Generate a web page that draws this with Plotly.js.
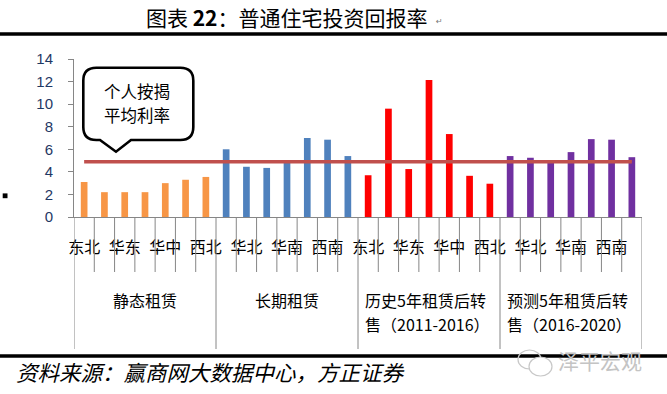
<!DOCTYPE html>
<html>
<head>
<meta charset="utf-8">
<script src="https://cdn.plot.ly/plotly-3.0.1.min.js"></script>
<style>
html,body{margin:0;padding:0;background:#fff;}
#chart{width:667px;height:394px;}
</style>
</head>
<body>
<div id="chart"></div>
<script>
// ---- data ----
const regions = ['东北','华北','华东','华南','华中','西南','西北'];
const groupLabels = [['静态租赁'],['长期租赁'],['历史5年租赁后转','售（2011-2016）'],['预测5年租赁后转','售（2016-2020）']];
const staticRent   = [3.1, 2.2, 2.2, 2.2, 3.0, 3.3, 3.55];
const longRent     = [6.0, 4.45, 4.35, 4.8, 7.0, 6.85, 5.4];
const histResale   = [3.7, 9.6, 4.25, 12.15, 7.35, 3.65, 2.95];
const fcstResale   = [5.4, 5.25, 4.8, 5.75, 6.9, 6.85, 5.3];
const mortgageRate = 4.9;
const seriesColors = ['#F79646','#4F81BD','#FF0000','#7030A0'];
const lineColor = '#C0504D';
const chartTitle = '图表 <b>22</b>：普通住宅投资回报率';
const sourceText = '资料来源：赢商网大数据中心，方正证券';
const calloutLines = ['个人按揭','平均利率'];
const watermark = '泽平宏观';

// ---- build ----
const W = 667, H = 394;
const M = {l:74, r:25, t:59, b:177};
const PW = W - M.l - M.r, PH = H - M.t - M.b;
const X = px => (px - M.l) / PW;
const Y = py => (H - M.b - py) / PH;

const series = [staticRent, longRent, histResale, fcstResale];
const n = regions.length;
const total = n * series.length;
const CJK = '"Noto Sans CJK SC", "Noto Sans", sans-serif';

const traces = series.map((vals, g) => ({
  type: 'bar',
  x: vals.map((v, i) => g * n + i),
  y: vals,
  width: 0.33,
  marker: {color: seriesColors[g]},
  hoverinfo: 'skip',
  showlegend: false
}));
const allIdx = Array.from({length: total}, (_, i) => i);
traces.push({
  type: 'scatter', mode: 'lines',
  x: allIdx, y: allIdx.map(() => mortgageRate),
  line: {color: lineColor, width: 3.6},
  hoverinfo: 'skip', showlegend: false
});

const labelIdx = allIdx.filter(i => i % 2 === 0);
const labelText = labelIdx.map(i => regions[i % n]);
const boundaries = Array.from({length: total + 1}, (_, i) => i - 0.5);
const groupBounds = Array.from({length: series.length + 1}, (_, g) => g * n - 0.5);

const annotations = [];
// group labels
groupLabels.forEach((lines, g) => {
  if (lines.length === 1) {
    annotations.push({xref:'x', yref:'paper', x: g*n + (n-1)/2, y: Y(300), text: lines[0],
      showarrow:false, xanchor:'center', yanchor:'middle', font:{family:CJK, size:16, color:'#000'}});
  } else {
    lines.forEach((t, k) => annotations.push({xref:'x', yref:'paper', x: g*n - 0.5 + 0.32, y: Y(300 + k*23.5), text: t,
      showarrow:false, xanchor:'left', yanchor:'middle', borderpad:0, font:{family:CJK, size:16, color:'#000'}}));
  }
});
// title
annotations.push({xref:'paper', yref:'paper', x: X(287), y: Y(17), text: chartTitle, showarrow:false,
  xanchor:'center', yanchor:'middle', font:{family:CJK, size:21, color:'#000'}});
annotations.push({xref:'paper', yref:'paper', x: X(434), y: Y(21), text: '↵', showarrow:false,
  xanchor:'left', yanchor:'middle', font:{family:'DejaVu Sans', size:8, color:'#777'}});
// source
annotations.push({xref:'paper', yref:'paper', x: X(14), y: Y(371), text: '<i>' + sourceText + '</i>', showarrow:false,
  xanchor:'left', yanchor:'middle', font:{family:CJK, size:21.5, color:'#000'}});
// callout text
calloutLines.forEach((t, k) => annotations.push({xref:'paper', yref:'paper', x: X(137), y: Y(91 + k*23.5), text: t, showarrow:false,
  xanchor:'center', yanchor:'middle', borderpad:0, font:{family:CJK, size:16.5, color:'#000'}}));
// watermark
annotations.push({xref:'paper', yref:'paper', x: X(600), y: Y(360), text: watermark, showarrow:false,
  xanchor:'center', yanchor:'middle', font:{family:CJK, size:21, color:'#c4c4c4'}});

// callout path
const L = 83.3, R = 193.3, T = 67.7, B = 140, r = 13;
const P = (x, y) => X(x).toFixed(5) + ',' + Y(y).toFixed(5);
const callPath = 'M' + P(L + r, T) + ' L' + P(R - r, T) + ' Q' + P(R, T) + ' ' + P(R, T + r) +
  ' L' + P(R, B - r) + ' Q' + P(R, B) + ' ' + P(R - r, B) + ' L' + P(131, B) + ' L' + P(116, 151.7) +
  ' L' + P(100, B) + ' L' + P(L + r, B) + ' Q' + P(L, B) + ' ' + P(L, B - r) + ' L' + P(L, T + r) +
  ' Q' + P(L, T) + ' ' + P(L + r, T) + ' Z';

const shapes = [
  {type:'path', xref:'paper', yref:'paper', path: callPath, fillcolor:'#fff', line:{color:'#000', width:2.6}, layer:'above'},
  {type:'line', xref:'paper', yref:'paper', x0: X(0), x1: X(667), y0: Y(34), y1: Y(34), line:{color:'#000', width:3.4}},
  {type:'line', xref:'paper', yref:'paper', x0: X(0), x1: X(667), y0: Y(356), y1: Y(356), line:{color:'#000', width:3.4}},
  {type:'rect', xref:'paper', yref:'paper', x0: X(2.7), x1: X(7.5), y0: Y(198.2), y1: Y(193.4), fillcolor:'#000', line:{width:0}},
  // watermark icon
  {type:'circle', xref:'paper', yref:'paper', x0: X(518), x1: X(541), y0: Y(369), y1: Y(350), fillcolor:'rgba(0,0,0,0)', line:{color:'#c8c8c8', width:1.2}},
  {type:'circle', xref:'paper', yref:'paper', x0: X(529), x1: X(552), y0: Y(376), y1: Y(357), fillcolor:'#fff', line:{color:'#c8c8c8', width:1.2}}
];
// category divider ticks below the axis
boundaries.forEach(b => {
  const isGroup = groupBounds.includes(b);
  shapes.push({type:'line', xref:'x', yref:'paper', x0: b, x1: b, y0: 0, y1: Y(isGroup ? 349 : 272),
    line:{color:'#868686', width:1}});
});

const layout = {
  width: W, height: H,
  margin: M,
  paper_bgcolor: '#fff', plot_bgcolor: '#fff',
  barmode: 'overlay',
  showlegend: false,
  xaxis: {
    range: [-0.5, total - 0.5], tickmode: 'array', tickvals: labelIdx, ticktext: labelText,
    ticks: 'outside', ticklen: 16, tickcolor: 'rgba(0,0,0,0)',
    tickfont: {family: CJK, size: 16, color: '#000'},
    showline: true, linecolor: '#868686', linewidth: 1, showgrid: false, zeroline: false, fixedrange: true
  },
  yaxis: {
    range: [0, 14], dtick: 2, tick0: 0, ticks: 'outside', ticklen: 5, tickcolor: '#868686',
    showline: true, linecolor: '#868686', linewidth: 1, showgrid: false, zeroline: false,
    tickfont: {family: '"Liberation Sans", Arial, sans-serif', size: 15, color: '#1F3864'},
    ticklabelstandoff: 12
  },
  annotations: annotations,
  shapes: shapes
};

Plotly.newPlot('chart', traces, layout, {staticPlot: true, displayModeBar: false});
</script>
</body>
</html>
